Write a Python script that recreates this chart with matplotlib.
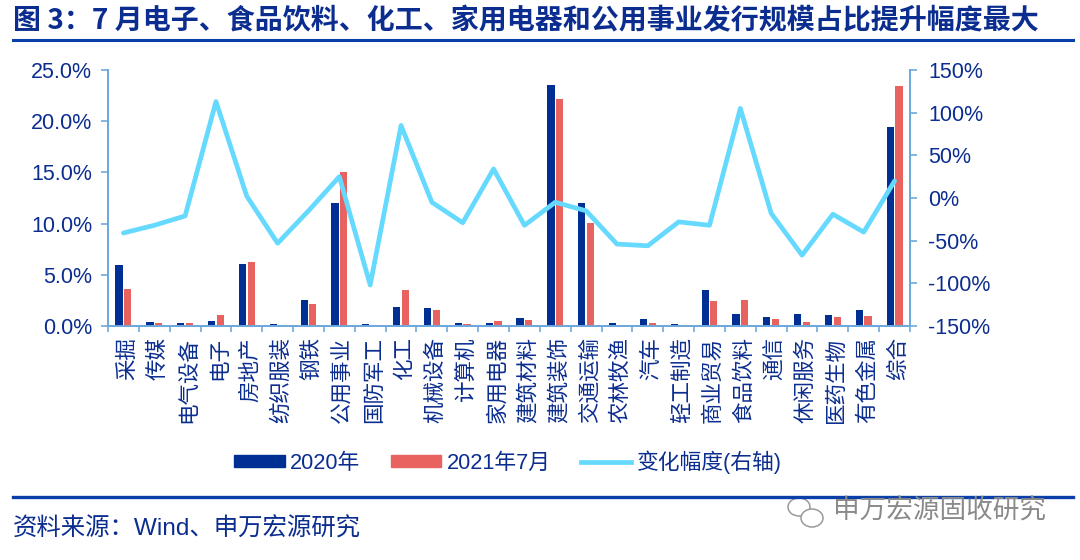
import matplotlib
matplotlib.use("Agg")
import matplotlib.pyplot as plt
import matplotlib.transforms as mtrans
import numpy as np
from matplotlib.lines import Line2D
from matplotlib.patches import Ellipse, Patch

plt.rcParams['font.family'] = ['Liberation Sans', 'Noto Sans CJK SC', 'DejaVu Sans']

categories = ['采掘', '传媒', '电气设备', '电子', '房地产', '纺织服装', '钢铁', '公用事业', '国防军工',
              '化工', '机械设备', '计算机', '家用电器', '建筑材料', '建筑装饰', '交通运输', '农林牧渔',
              '汽车', '轻工制造', '商业贸易', '食品饮料', '通信', '休闲服务', '医药生物', '有色金属', '综合']
share_2020 = [6.0, 0.4, 0.3, 0.5, 6.1, 0.15, 2.5, 12.0, 0.15, 1.9, 1.75, 0.3, 0.3,
              0.75, 23.5, 12.0, 0.3, 0.7, 0.15, 3.5, 1.15, 0.9, 1.15, 1.1, 1.6, 19.4]
share_2021 = [3.6, 0.25, 0.25, 1.1, 6.25, 0.03, 2.15, 15.0, 0.03, 3.5, 1.6, 0.2, 0.45,
              0.55, 22.2, 10.1, 0.1, 0.3, 0.05, 2.4, 2.5, 0.7, 0.35, 0.9, 1.0, 23.4]
change = [-41, -32, -21, 113, 2, -53, -15, 25, -102, 85, -5, -29, 34,
          -32, -5, -15, -54, -56, -28, -32, 105, -18, -67, -19, -40, 20]
left_ticks = [0, 5, 10, 15, 20, 25]
right_ticks = [-150, -100, -50, 0, 50, 100, 150]

NAVY = '#0B2D8F'
BLUE = '#002F94'
RED = '#E86360'
CYAN = '#66D9FF'
AXIS = '#6FA8DC'
W, H = 1080, 560

fig = plt.figure(figsize=(W / 100, H / 100), dpi=100)
ax = fig.add_axes([108 / W, 1 - 326 / H, 802 / W, 256 / H])
x = np.arange(len(categories))

ax.bar(x - 0.14, share_2020, width=0.235, color=BLUE, zorder=3)
ax.bar(x + 0.14, share_2021, width=0.235, color=RED, zorder=3)
ax.set_xlim(-0.5, len(categories) - 0.5)
ax.set_ylim(0, 25)
ax.set_yticks(left_ticks)
ax.set_yticklabels([f'{v:.1f}%' for v in left_ticks], fontsize=15.5, color=NAVY)

# tick marks sit on the category edges, labels in the middle
ax.set_xticks(np.arange(len(categories) + 1) - 0.5)
ax.set_xticklabels([])
ax.set_xticks(x, minor=True)
ax.set_xticklabels(categories, minor=True, rotation=90, fontsize=15.5, color=NAVY,
                   va='top', ha='center')
ax.tick_params(axis='x', which='major', length=4.5, width=1.2, color=AXIS)
ax.tick_params(axis='x', which='minor', length=0, pad=8)
ax.tick_params(axis='y', length=5, width=1.2, color=AXIS, pad=6.5)

# nudge the vertical labels right, the CJK glyphs sit off centre when rotated
shift = mtrans.ScaledTranslation(4 / 100, 0, fig.dpi_scale_trans)
for lab in ax.get_xticklabels(minor=True):
    lab.set_transform(lab.get_transform() + shift)

ax2 = ax.twinx()
ax2.plot(x, change, color=CYAN, lw=3.4, solid_joinstyle='round', solid_capstyle='round')
ax2.set_ylim(-150, 150)
ax2.set_yticks(right_ticks)
ax2.set_yticklabels([f'{v}%' for v in right_ticks], fontsize=15.5, color=NAVY)
ax2.tick_params(axis='y', length=5, width=1.2, color=AXIS, pad=8)

for a in (ax, ax2):
    a.spines['top'].set_visible(False)
    for side in ('left', 'right', 'bottom'):
        a.spines[side].set_color(AXIS)
        a.spines[side].set_linewidth(1.4)

handles = [Patch(color=BLUE), Patch(color=RED), Line2D([], [], color=CYAN, lw=3.4)]
fig.legend(handles, ['2020年', '2021年7月', '变化幅度(右轴)'], ncol=3, frameon=False,
           loc='center', bbox_to_anchor=(508 / W, 1 - 462 / H), fontsize=15.7, labelcolor=NAVY,
           handlelength=2.3, handleheight=0.45, handletextpad=0.25, columnspacing=1.4)

# title, rules and footer
fig.text(13 / W, 1 - 21 / H, '图 3：7 月电子、食品饮料、化工、家用电器和公用事业发行规模占比提升幅度最大',
         fontsize=20.15, fontweight='bold', color=NAVY, va='center', ha='left',
         family=['Noto Sans CJK SC', 'DejaVu Sans'])
fig.add_artist(Line2D([13 / W, 1073 / W], [1 - 40 / H, 1 - 40 / H], color='#0B3FA8', lw=2.2))
fig.add_artist(Line2D([13 / W, 1073 / W], [1 - 497 / H, 1 - 497 / H], color='#0B3FA8', lw=2.4))
fig.text(13 / W, 1 - 529 / H, '资料来源：Wind、申万宏源研究', fontsize=17.6, color=NAVY,
         va='center', ha='left')

# watermark
fig.text(833 / W, 1 - 512 / H, '申万宏源固收研究', fontsize=19.2, color='#8A8A8A', va='center', ha='left')
fig.add_artist(Ellipse((799 / W, 1 - 507 / H), 22 / W, 18 / H, fill=False, ec='#9A9A9A', lw=1.1,
                       transform=fig.transFigure))
fig.add_artist(Ellipse((812 / W, 1 - 518 / H), 22 / W, 18 / H, fc='white', ec='#9A9A9A', lw=1.1,
                       transform=fig.transFigure))

fig.savefig('out.png', dpi=100)
